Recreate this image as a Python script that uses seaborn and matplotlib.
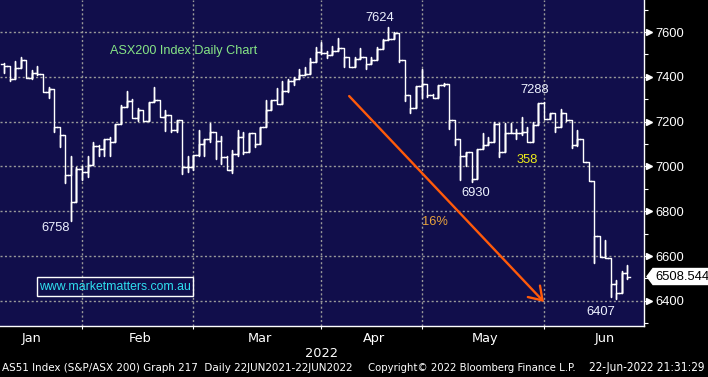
import numpy as np
import pandas as pd
import matplotlib
matplotlib.use("Agg")
import matplotlib.pyplot as plt
import matplotlib.patches as mpatches
from matplotlib.ticker import FixedLocator, FixedFormatter
from matplotlib.transforms import blended_transform_factory
from matplotlib import font_manager
import seaborn as sns

# ---------------- data ----------------
first_date = "2022-01-10"
asx_holidays = ["2022-01-26", "2022-04-15", "2022-04-18", "2022-04-25", "2022-06-13"]

open_px = [7457, 7448, 7389, 7438, 7475, 7393, 7416, 7411, 7331, 7344,
           7174, 7139, 6960, 6840, 6988, 6974, 7005, 7091, 7076, 7121,
           7110, 7188, 7267, 7293, 7218, 7252, 7204, 7286, 7296, 7222,
           7228, 7163, 7207, 6999, 6999, 7050, 7100, 7121, 7152, 7113,
           7044, 6984, 7054, 7133, 7063, 7148, 7099, 7177, 7252, 7296,
           7277, 7338, 7381, 7390, 7408, 7412, 7465, 7512, 7505, 7497,
           7515, 7527, 7490, 7442, 7480, 7487, 7456, 7475, 7524, 7564,
           7569, 7594, 7475, 7319, 7259, 7359, 7366, 7319, 7306, 7363,
           7368, 7207, 7121, 7046, 7066, 6942, 7076, 7096, 7110, 7190,
           7066, 7148, 7148, 7148, 7155, 7107, 7185, 7284, 7210, 7237,
           7174, 7237, 7207, 7096, 7121, 7018, 6935, 6689, 6597, 6590,
           6475, 6436, 6526]
high_px = [7460, 7448, 7471, 7487, 7475, 7430, 7448, 7411, 7353, 7344,
           7174, 7139, 7046, 6999, 7002, 7046, 7109, 7094, 7122, 7133,
           7188, 7274, 7337, 7301, 7262, 7252, 7286, 7356, 7296, 7252,
           7228, 7207, 7207, 7046, 7050, 7162, 7121, 7195, 7152, 7136,
           7048, 7073, 7163, 7152, 7148, 7148, 7177, 7296, 7296, 7349,
           7381, 7389, 7401, 7433, 7445, 7482, 7532, 7557, 7515, 7537,
           7572, 7527, 7490, 7490, 7527, 7487, 7490, 7532, 7569, 7624,
           7602, 7594, 7475, 7319, 7359, 7435, 7366, 7322, 7363, 7371,
           7368, 7207, 7121, 7066, 7066, 7076, 7148, 7130, 7200, 7195,
           7195, 7195, 7166, 7219, 7177, 7197, 7284, 7288, 7237, 7237,
           7255, 7237, 7207, 7162, 7121, 7018, 6935, 6689, 6671, 6590,
           6493, 6535, 6560]
low_px = [7416, 7380, 7389, 7438, 7393, 7389, 7408, 7331, 7304, 7155,
          7088, 6924, 6758, 6840, 6939, 6951, 7005, 7048, 7048, 7048,
          7110, 7188, 7267, 7218, 7201, 7201, 7204, 7286, 7219, 7160,
          7154, 7154, 6966, 6977, 6984, 7048, 7048, 7110, 7032, 7011,
          6984, 6972, 7046, 7055, 7063, 7085, 7099, 7174, 7252, 7277,
          7277, 7334, 7363, 7390, 7408, 7412, 7465, 7500, 7482, 7497,
          7515, 7442, 7442, 7442, 7480, 7435, 7456, 7475, 7524, 7564,
          7569, 7465, 7293, 7237, 7259, 7304, 7311, 7304, 7304, 7360,
          7166, 7096, 6939, 7002, 6930, 6942, 7076, 7096, 7110, 7040,
          7066, 7148, 7121, 7140, 7107, 7107, 7185, 7210, 7210, 7155,
          7174, 7204, 7084, 7093, 7018, 6935, 6570, 6597, 6590, 6416,
          6407, 6436, 6496]
close_px = [7448, 7389, 7438, 7475, 7393, 7416, 7411, 7331, 7344, 7174,
            7139, 6960, 6840, 6988, 6974, 7005, 7091, 7076, 7121, 7110,
            7188, 7267, 7293, 7218, 7252, 7204, 7286, 7296, 7222, 7228,
            7163, 7207, 6999, 6999, 7050, 7100, 7121, 7152, 7113, 7044,
            6984, 7054, 7133, 7063, 7148, 7099, 7177, 7252, 7296, 7277,
            7338, 7381, 7390, 7408, 7412, 7465, 7512, 7505, 7497, 7515,
            7527, 7490, 7442, 7480, 7487, 7456, 7475, 7524, 7564, 7569,
            7594, 7475, 7319, 7259, 7359, 7366, 7319, 7306, 7363, 7368,
            7207, 7121, 7046, 7066, 6942, 7076, 7096, 7110, 7190, 7066,
            7148, 7148, 7148, 7155, 7107, 7185, 7284, 7210, 7237, 7174,
            7237, 7207, 7096, 7121, 7018, 6935, 6689, 6597, 6590, 6475,
            6436, 6526, 6508.544]

month_names = ["Jan", "Feb", "Mar", "Apr", "May", "Jun"]
price_ticks = [6400, 6600, 6800, 7000, 7200, 7400, 7600]
last_value = 6508.544
point_labels = ["7624", "7288", "6930", "6407", "6758"]
move_label = "16%"
bounce_label = "358"
title_text = "ASX200 Index Daily Chart"
site_text = "www.marketmatters.com.au"
year_label = "2022"
arrow_dates = ["2022-04-07", "2022-05-31"]
arrow_values = [7314, 6395]
footer_parts = ["AS51 Index (S&P/ASX 200) Graph 217  Daily 22JUN2021-22JUN2022",
                "Copyright\u00a9 2022 Bloomberg Finance L.P.",
                "22-Jun-2022 21:31:29"]

# ---------------- fonts ----------------
plt.rcParams["font.family"] = ["Liberation Sans", "DejaVu Sans"]
names = {f.name for f in font_manager.fontManager.ttflist}
narrow = ["Liberation Sans Narrow", "DejaVu Sans"] if "Liberation Sans Narrow" in names else ["DejaVu Sans"]

# ---------------- calendar / positions ----------------
cal = pd.bdate_range("2022-01-04", "2022-06-30")
cal = cal[~cal.isin(pd.to_datetime(asx_holidays))]
start = cal.get_loc(pd.Timestamp(first_date))
n = len(close_px)
pos = np.arange(start, start + n)
month_end = [np.where(cal.month == m)[0].max() for m in range(1, 6)]
month_mid = [np.where(cal.month == m)[0].mean() for m in range(1, 7)]

o = np.asarray(open_px, float); h = np.asarray(high_px, float)
l = np.asarray(low_px, float); c = np.asarray(close_px, float)
path = pd.DataFrame({
    "x": np.column_stack([pos - 0.5, pos, pos, pos, pos, pos + 0.5]).ravel(),
    "y": np.column_stack([o, o, h, l, c, c]).ravel(),
    "bar": np.repeat(pos, 6),
})

# ---------------- figure ----------------
W, H = 708, 377
fig = plt.figure(figsize=(W / 100, H / 100), dpi=100, facecolor="black")
ax = fig.add_axes([0, 1 - 326 / H, 644 / W, 326 / H])
ax.set_facecolor("#110e4b")

sns.lineplot(data=path, x="x", y="y", units="bar", estimator=None, sort=False,
             color="white", linewidth=1.0, ax=ax, legend=False, zorder=3)

ax.set_xlim(3.27, 118.97)
ax.set_ylim(6287.6, 7742.9)

# y axis on right
ax.yaxis.tick_right()
ax.set_yticks(price_ticks)
ax.yaxis.set_minor_locator(FixedLocator(np.arange(6300, 7701, 100)))
ax.tick_params(axis="y", which="both", left=False, right=True, length=2.9,
               width=0.8, color="white", direction="out", labelcolor="white",
               labelsize=9.3, pad=5.5)
ax.tick_params(axis="y", which="minor", labelright=False)

# x axis
ax.set_xticks(month_end)
ax.set_xticklabels([""] * len(month_end))
ax.xaxis.set_minor_locator(FixedLocator(month_mid))
ax.xaxis.set_minor_formatter(FixedFormatter(month_names))
ax.tick_params(axis="x", which="major", length=2.5, width=0.8, color="white", direction="out")
ax.tick_params(axis="x", which="minor", length=0, pad=4, labelcolor="white", labelsize=9.3)
ax.set_xlabel(year_label, color="white", fontsize=9.3, labelpad=2)
ax.set_ylabel("")
for t in ax.get_xticklabels(minor=True):
    t.set_family(narrow)
ax.xaxis.label.set_family(narrow)

ax.grid(True, which="major", axis="both", color="#9a9a9a",
        linestyle=(0, (1.5, 1.7)), linewidth=1.0, zorder=1)
ax.set_axisbelow(True)
for s in ["left", "top"]:
    ax.spines[s].set_visible(False)
for s in ["right", "bottom"]:
    ax.spines[s].set_color("white")
    ax.spines[s].set_linewidth(1.0)

# triangles at major price ticks
tr_ad = blended_transform_factory(ax.transAxes, ax.transData)
ax.plot([648.5 / 644] * len(price_ticks), price_ticks, ls="none", marker=">",
        ms=4.6, color="white", transform=tr_ad, clip_on=False, zorder=5)

# last-value tag
tr_fd = blended_transform_factory(fig.transFigure, ax.transData)
dy = 8 * (7742.9 - 6287.6) / 326
tag = mpatches.Polygon([(647 / W, last_value), (653 / W, last_value + dy),
                        (1.0, last_value + dy), (1.0, last_value - dy),
                        (653 / W, last_value - dy)], closed=True,
                       facecolor="white", edgecolor="white", transform=tr_fd,
                       clip_on=False, zorder=6)
ax.add_patch(tag)
ax.text(655 / W, last_value, f"{last_value:.3f}", transform=tr_fd, ha="left",
        va="center", color="black", fontsize=9.4, clip_on=False, zorder=7)

# arrow
arr_pos = [cal.get_loc(pd.Timestamp(d)) for d in arrow_dates]
ax.annotate("", xy=(arr_pos[1], arrow_values[1]), xytext=(arr_pos[0], arrow_values[0]),
            arrowprops=dict(arrowstyle="->,head_length=0.45,head_width=0.3",
                            color="#ff5a0a", lw=1.7, shrinkA=0, shrinkB=0,
                            mutation_scale=20), zorder=4)

# annotations (figure pixel positions)
def fx(px):
    return px / W

def fy(py):
    return 1 - py / H

lab_xy = [(380, 18), (535, 90), (476, 193), (601, 312), (56, 228)]
for txt, (px, py) in zip(point_labels, lab_xy):
    fig.text(fx(px), fy(py), txt, color="#eef2ff", fontsize=9.3, ha="center", va="center")
fig.text(fx(527), fy(160), bounce_label, color="#ecec1a", fontsize=9.3, ha="center", va="center")
fig.text(fx(435), fy(222), move_label, color="#e8a23c", fontsize=9.3, ha="center", va="center")

renderer = fig.canvas.get_renderer()

def fit(t, target):
    w = t.get_window_extent(renderer=renderer).width
    t.set_fontsize(t.get_fontsize() * target / w)

tt = fig.text(fx(110), fy(51), title_text, color="#86e486", fontsize=9, ha="left", va="center")
fit(tt, 148)

fig.add_artist(mpatches.Rectangle((fx(37), fy(296)), 156 / W, 19 / H, transform=fig.transFigure,
                                  facecolor="none", edgecolor="white", linewidth=1.0))
st = fig.text(fx(115), fy(287), site_text, color="#2fe0f0", fontsize=9, ha="center", va="center")
fit(st, 151)

foot_x = [2, 368, 589]
foot_w = [351, 210, 117]
for txt, x0, w0 in zip(footer_parts, foot_x, foot_w):
    ft = fig.text(fx(x0), fy(368), txt, color="white", fontsize=9, ha="left", va="center",
                  family=narrow, fontstretch="condensed")
    fit(ft, w0)

fig.savefig("out.png", dpi=100, facecolor="black")
